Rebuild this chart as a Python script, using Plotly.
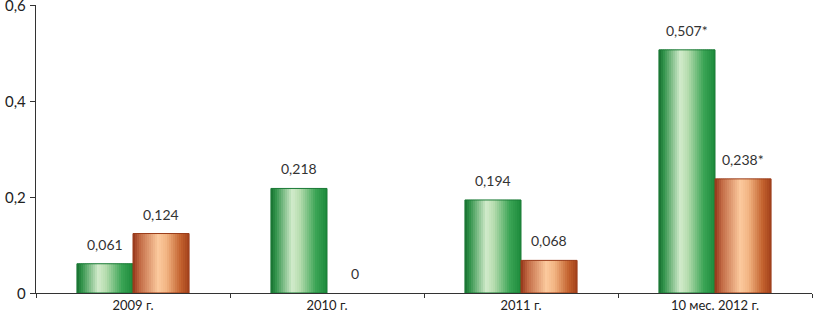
import plotly.graph_objects as go

categories = ["2009 г.", "2010 г.", "2011 г.", "10 мес. 2012 г."]
green_values = [0.061, 0.218, 0.194, 0.507]
orange_values = [0.124, 0.0, 0.068, 0.238]
green_suffix = ["", "", "", "*"]
orange_suffix = ["", "", "", "*"]
y_ticks = [0, 0.2, 0.4, 0.6]

FONT = "Lato"
BAR_W = 0.289
N = 28

green_stops = [(0.0, "#17702f"), (0.08, "#2f9148"), (0.38, "#d2ebcb"), (0.52, "#b5dcae"),
               (0.8, "#3ba455"), (1.0, "#1c8a3b")]
orange_stops = [(0.0, "#94351a"), (0.12, "#c26a44"), (0.45, "#fcca9e"), (0.6, "#f2b483"),
                (0.85, "#c3622e"), (1.0, "#a3411c")]


def hex2rgb(h):
    h = h.lstrip("#")
    return [int(h[i:i + 2], 16) for i in (0, 2, 4)]


def interp(stops, t):
    for (p0, c0), (p1, c1) in zip(stops[:-1], stops[1:]):
        if p0 <= t <= p1:
            f = (t - p0) / (p1 - p0) if p1 > p0 else 0
            a, b = hex2rgb(c0), hex2rgb(c1)
            return "rgb(%d,%d,%d)" % tuple(round(a[k] + (b[k] - a[k]) * f) for k in range(3))
    return stops[-1][1]


def fmt(v):
    return ("%g" % v).replace(".", ",")


fig = go.Figure()


def add_gradient_bar(values, start, stops, edge):
    step = BAR_W / N
    for i in range(N):
        t = (i + 0.5) / N
        w = step * 1.6 if i < N - 1 else step
        fig.add_trace(go.Bar(
            x=categories, y=values, width=w, offset=start + i * step,
            marker=dict(color=interp(stops, t), line=dict(width=0)),
            showlegend=False, hoverinfo="skip"))
    fig.add_trace(go.Bar(
        x=categories, y=values, width=BAR_W, offset=start,
        marker=dict(color="rgba(0,0,0,0)",
                    line=dict(width=[1 if v > 0 else 0 for v in values], color=edge)),
        showlegend=False, hoverinfo="skip"))


add_gradient_bar(green_values, -BAR_W, green_stops, "#1a7a36")
add_gradient_bar(orange_values, 0.0, orange_stops, "#9a3c1a")

annotations = []
for cat, v, s in zip(categories, green_values, green_suffix):
    annotations.append(dict(x=cat, y=v, xref="x", yref="y", xshift=-28, yshift=9,
                            yanchor="bottom", showarrow=False,
                            text=f"{v:.3f}".replace(".", ",") + s,
                            font=dict(family=FONT, size=14, color="#333333")))
for cat, v, s in zip(categories, orange_values, orange_suffix):
    txt = "0" if v == 0 else f"{v:.3f}".replace(".", ",") + s
    annotations.append(dict(x=cat, y=v, xref="x", yref="y", xshift=28, yshift=9,
                            yanchor="bottom", showarrow=False, text=txt,
                            font=dict(family=FONT, size=14, color="#333333")))
# y tick labels (drawn as annotations so the top one is not dropped at the edge)
for tv in y_ticks:
    annotations.append(dict(x=0, xref="paper", y=tv, yref="y", xanchor="right",
                            yanchor="middle", xshift=-8, showarrow=False, text=fmt(tv),
                            font=dict(family=FONT, size=15, color="#222222")))

fig.update_layout(
    width=813, height=320,
    margin=dict(l=36, r=1, t=5, b=27),
    barmode="overlay",
    separators=", ",
    plot_bgcolor="white", paper_bgcolor="white",
    annotations=annotations,
    font=dict(family=FONT, size=13, color="#222222"),
)
fig.update_xaxes(
    type="category", showgrid=False, showline=True, linecolor="#333333", linewidth=1,
    ticks="outside", tickson="boundaries", ticklen=4, tickcolor="#333333",
    tickfont=dict(family=FONT, size=13, color="#222222"), automargin=False,
)
fig.update_yaxes(
    range=[0, 0.6005], tickvals=y_ticks, showgrid=False, zeroline=False,
    showline=True, linecolor="#333333", linewidth=1, showticklabels=False,
    ticks="outside", ticklen=5, tickcolor="#333333", automargin=False,
)

fig.write_html("out.html", config={"displayModeBar": False},
               post_script="document.body.style.margin='0';document.body.style.overflow='hidden';")
